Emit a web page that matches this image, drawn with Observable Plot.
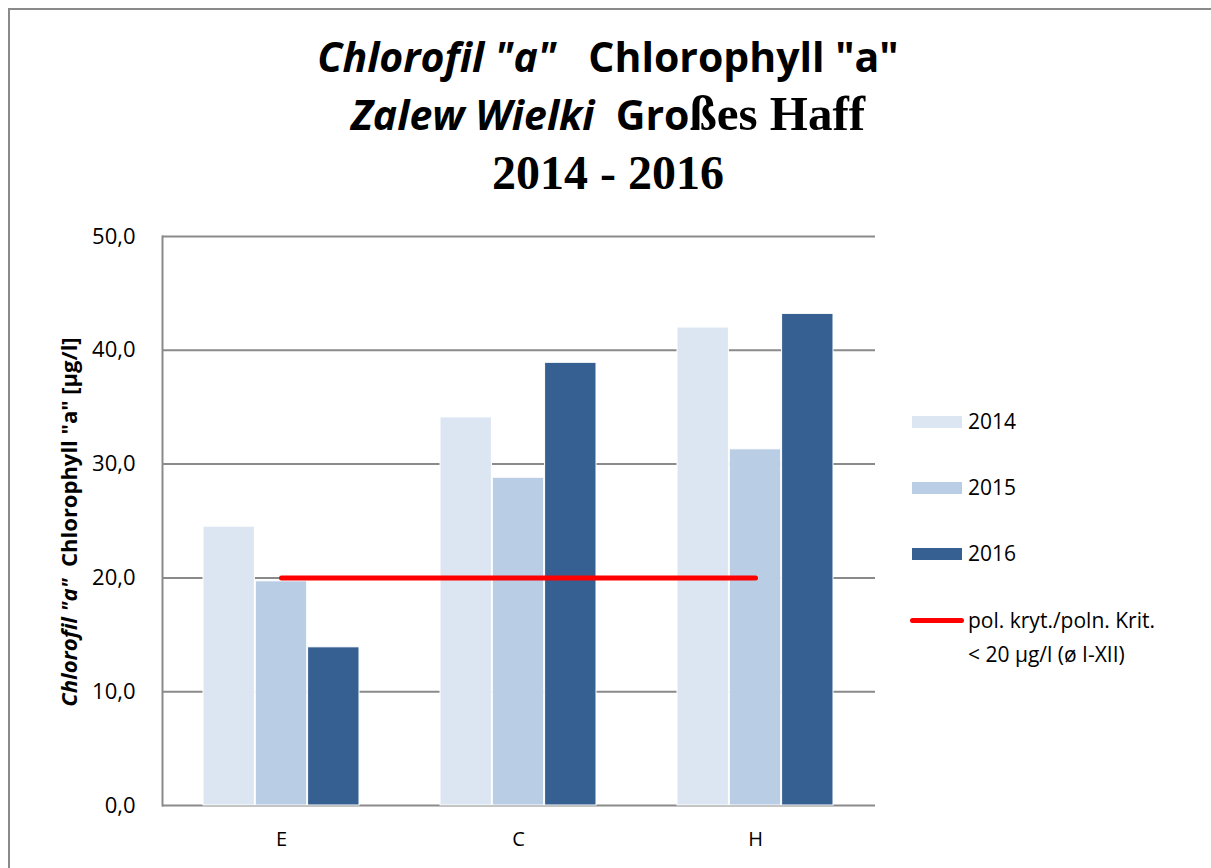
<!DOCTYPE html>
<html>
<head>
<meta charset="utf-8">
<script src="https://cdn.jsdelivr.net/npm/d3@7"></script>
<script src="https://cdn.jsdelivr.net/npm/@observablehq/plot@0.6"></script>
<style>
  html, body { margin: 0; padding: 0; background: #fff; }
  #page { position: relative; width: 1211px; height: 868px; overflow: hidden; font-family: "Open Sans", Lato, sans-serif; }
  #border { position: absolute; left: 8px; top: 8px; width: 1300px; height: 900px; border-left: 2px solid #8a8a8a; border-top: 2px solid #8a8a8a; }
  .t { position: absolute; left: 0; width: 1216px; text-align: center; white-space: pre; color: #000; }
  .cal { font-family: "Open Sans", Lato, sans-serif; font-weight: bold; }
  .tim { font-family: "Liberation Serif", "DejaVu Serif", serif; font-weight: bold; }
  #chart { position: absolute; left: 0; top: 210px; }
  #ylab { position: absolute; left: 68px; top: 522px; transform: translate(-50%, -50%) rotate(-90deg); white-space: pre; font-weight: bold; font-size: 22px; }
  #legend { position: absolute; left: 910px; top: 400px; font-size: 21px; }
  .li { position: absolute; left: 0; white-space: pre; }
  .sw { position: absolute; left: 2px; width: 50px; height: 12px; }
  .lt { position: absolute; left: 58px; line-height: 34px; }
</style>
</head>
<body>
<div id="page">
  <div id="border"></div>
  <div class="t" style="top:28px; font-size:41px; line-height:56px;"><span class="cal" style="font-style:italic;">Chlorofil "a"</span><span class="cal">   Chlorophyll "a"</span></div>
  <div class="t" style="top:86px; font-size:41px; line-height:56px;"><span class="cal" style="font-style:italic;">Zalew Wielki</span><span class="cal">  Gro</span><span class="tim" style="font-size:49px;">ßes Haff</span></div>
  <div class="t tim" style="top:143px; font-size:48px; line-height:60px;">2014 - 2016</div>
  <div id="chart"></div>
  <div id="ylab"><span style="font-style:italic;">Chlorofil "a"</span>  Chlorophyll "a" [µg/l]</div>
  <div id="legend"></div>
</div>
<script>
const categories = ["E", "C", "H"];
const years = ["2014", "2015", "2016"];
const values2014 = [24.5, 34.1, 42.0];
const values2015 = [19.7, 28.8, 31.3];
const values2016 = [13.9, 38.9, 43.2];
const colors = ["#dce6f2", "#b9cde5", "#376092"];
const criterionValue = 20;
const criterionLabel = ["pol. kryt./poln. Krit.", "< 20 µg/l (ø I-XII)"];
const yTicks = [0, 10, 20, 30, 40, 50];

const series = [values2014, values2015, values2016];
const rows = [];
years.forEach((yr, j) => categories.forEach((c, i) => rows.push({cat: c, year: yr, value: series[j][i]})));
const crit = [{cat: categories[0], value: criterionValue}, {cat: categories[categories.length - 1], value: criterionValue}];

const bw = 156.9; // band width of a category group
const third = bw / 3;
const barMarks = years.map((yr, j) => Plot.barY(rows.filter(d => d.year === yr), {
  x: "cat", y: "value", fill: colors[j], stroke: "#ffffff", strokeWidth: 1,
  insetLeft: third * j, insetRight: third * (2 - j)
}));

const chart = Plot.plot({
  width: 1211,
  height: 658,
  marginTop: 26,
  marginBottom: 63,
  marginLeft: 162,
  marginRight: 336,
  style: {fontFamily: "'Open Sans', Lato, sans-serif", fontSize: "20px", color: "#000", background: "transparent"},
  x: {type: "band", domain: categories, paddingInner: 0.34, paddingOuter: 0.17, label: null},
  y: {domain: [0, 50], ticks: yTicks, label: null},
  marks: [
    Plot.gridY(yTicks, {stroke: "#8a8a8a", strokeOpacity: 1, strokeWidth: 2}),
    Plot.frame({anchor: "left", stroke: "#8a8a8a", strokeWidth: 2}),
    ...barMarks,
    Plot.lineY(crit, {x: "cat", y: "value", stroke: "#ff0000", strokeWidth: 5, strokeLinecap: "round"}),
    Plot.axisY(yTicks, {tickSize: 0, tickPadding: 27, fontSize: 22, tickFormat: d => d.toFixed(1).replace(".", ","), label: null}),
    Plot.axisX({tickSize: 0, tickPadding: 26, fontSize: 20, label: null})
  ]
});
document.getElementById("chart").appendChild(chart);

const legend = document.getElementById("legend");
years.forEach((yr, j) => {
  const item = document.createElement("div");
  item.className = "li";
  item.style.top = (j * 66) + "px";
  item.innerHTML = `<div class="sw" style="top:16px;background:${colors[j]}"></div><div class="lt" style="top:4px">${yr}</div>`;
  legend.appendChild(item);
});
const ci = document.createElement("div");
ci.className = "li";
ci.style.top = "198px";
ci.innerHTML = `<div style="position:absolute;left:0;top:20px;width:54px;height:5px;border-radius:3px;background:#ff0000"></div><div class="lt" style="top:5px">${criterionLabel[0]}<br>${criterionLabel[1]}</div>`;
legend.appendChild(ci);
</script>
</body>
</html>
